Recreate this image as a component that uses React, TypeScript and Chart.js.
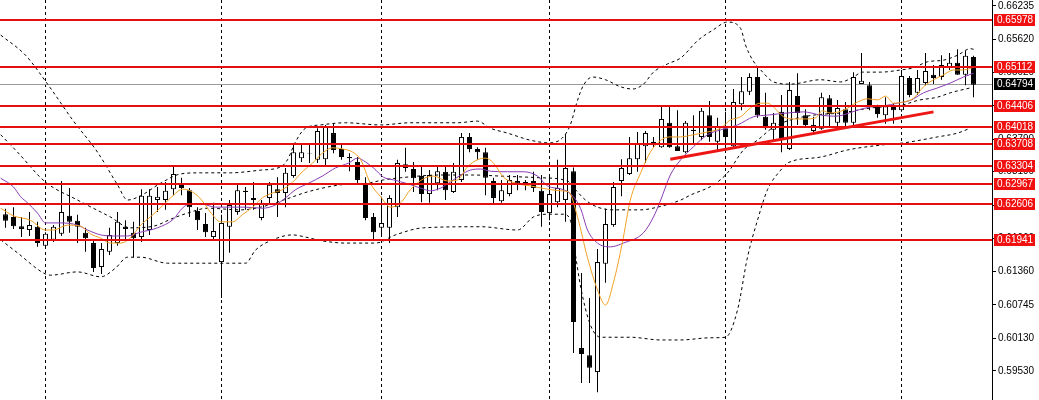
import React, { useEffect, useRef } from "react";
import { Chart, registerables } from "chart.js";

Chart.register(...registerables);

// ---- candle data (one entry per bar, index 0..121) ----
const opens = [
  0.6241, 0.6236, 0.6219, 0.6212, 0.6218, 0.6183, 0.6194, 0.6205, 0.6238, 0.6229,
  0.6207, 0.6188, 0.6144, 0.6172, 0.6188, 0.6218, 0.6207, 0.6199, 0.6212, 0.6267,
  0.6267, 0.6287, 0.6297, 0.6285, 0.6247, 0.6223, 0.6199, 0.6153, 0.6218, 0.6245,
  0.6284, 0.6271, 0.6234, 0.6271, 0.6287, 0.6280, 0.6311, 0.6344, 0.6353, 0.6341,
  0.6342, 0.6390, 0.6361, 0.6346, 0.6337, 0.6297, 0.6236, 0.6216, 0.6216, 0.6254,
  0.6326, 0.6324, 0.6311, 0.6278, 0.6298, 0.6319, 0.6282, 0.6304, 0.6383, 0.6361,
  0.6355, 0.6302, 0.6265, 0.6278, 0.6302, 0.6300, 0.6302, 0.6284, 0.6243, 0.6263,
  0.6267, 0.6320, 0.5995, 0.5982, 0.5951, 0.6150, 0.6221, 0.6302, 0.6315, 0.6342,
  0.6366, 0.6372, 0.6364, 0.6409, 0.6366, 0.6355, 0.6396, 0.6383, 0.6423, 0.6374,
  0.6399, 0.6366, 0.6443, 0.6466, 0.6493, 0.6420, 0.6396, 0.6429, 0.6361, 0.6458,
  0.6423, 0.6394, 0.6398, 0.6454, 0.6409, 0.6434, 0.6409, 0.6480, 0.6478, 0.6438,
  0.6423, 0.6440, 0.6432, 0.6491, 0.6464, 0.6482, 0.6497, 0.6493, 0.6510, 0.6519,
  0.6497, 0.6530,
];
const highs = [
  0.6251, 0.6254, 0.6236, 0.6245, 0.6227, 0.6208, 0.6221, 0.6302, 0.6289, 0.6240,
  0.6216, 0.6194, 0.6188, 0.6216, 0.6245, 0.6230, 0.6227, 0.6287, 0.6287, 0.6291,
  0.6300, 0.6328, 0.6308, 0.6289, 0.6254, 0.6243, 0.6262, 0.6240, 0.6267, 0.6295,
  0.6291, 0.6300, 0.6267, 0.6300, 0.6309, 0.6326, 0.6368, 0.6372, 0.6372, 0.6399,
  0.6405, 0.6407, 0.6372, 0.6353, 0.6346, 0.6309, 0.6243, 0.6273, 0.6276, 0.6341,
  0.6363, 0.6337, 0.6328, 0.6322, 0.6328, 0.6331, 0.6335, 0.6390, 0.6390, 0.6364,
  0.6363, 0.6308, 0.6304, 0.6313, 0.6313, 0.6304, 0.6319, 0.6313, 0.6313, 0.6341,
  0.6388, 0.6327, 0.6133, 0.6087, 0.6177, 0.6251, 0.6300, 0.6342, 0.6383, 0.6392,
  0.6394, 0.6383, 0.6438, 0.6438, 0.6432, 0.6412, 0.6423, 0.6436, 0.6449, 0.6418,
  0.6429, 0.6471, 0.6493, 0.6500, 0.6511, 0.6464, 0.6427, 0.6460, 0.6484, 0.6500,
  0.6434, 0.6420, 0.6464, 0.6460, 0.6451, 0.6447, 0.6502, 0.6537, 0.6484, 0.6442,
  0.6456, 0.6445, 0.6506, 0.6495, 0.6506, 0.6537, 0.6515, 0.6533, 0.6537, 0.6544,
  0.6541, 0.6532,
];
const lows = [
  0.6216, 0.6214, 0.6199, 0.6201, 0.6181, 0.6179, 0.6190, 0.6201, 0.6207, 0.6188,
  0.6172, 0.6135, 0.6131, 0.6166, 0.6183, 0.6194, 0.6162, 0.6190, 0.6203, 0.6245,
  0.6249, 0.6276, 0.6276, 0.6236, 0.6212, 0.6199, 0.6195, 0.6087, 0.6170, 0.6240,
  0.6249, 0.6249, 0.6230, 0.6258, 0.6236, 0.6254, 0.6308, 0.6337, 0.6335, 0.6335,
  0.6331, 0.6353, 0.6341, 0.6320, 0.6298, 0.6230, 0.6194, 0.6203, 0.6188, 0.6236,
  0.6319, 0.6282, 0.6263, 0.6262, 0.6285, 0.6267, 0.6280, 0.6300, 0.6355, 0.6341,
  0.6276, 0.6258, 0.6262, 0.6274, 0.6285, 0.6285, 0.6282, 0.6218, 0.6230, 0.6254,
  0.6227, 0.5986, 0.5931, 0.5931, 0.5914, 0.6115, 0.6218, 0.6274, 0.6313, 0.6319,
  0.6335, 0.6364, 0.6363, 0.6363, 0.6357, 0.6353, 0.6372, 0.6377, 0.6374, 0.6359,
  0.6359, 0.6364, 0.6432, 0.6460, 0.6418, 0.6396, 0.6377, 0.6355, 0.6359, 0.6405,
  0.6401, 0.6387, 0.6396, 0.6403, 0.6396, 0.6401, 0.6405, 0.6480, 0.6432, 0.6418,
  0.6407, 0.6407, 0.6429, 0.6456, 0.6460, 0.6478, 0.6480, 0.6488, 0.6506, 0.6497,
  0.6478, 0.6456,
];
const closes = [
  0.6229, 0.6219, 0.6214, 0.6221, 0.6188, 0.6205, 0.6218, 0.6245, 0.6227, 0.6218,
  0.6197, 0.6142, 0.6177, 0.6203, 0.6227, 0.6214, 0.6197, 0.6275, 0.6275, 0.6273,
  0.6284, 0.6315, 0.6289, 0.6254, 0.6230, 0.6208, 0.6210, 0.6225, 0.6258, 0.6285,
  0.6282, 0.6267, 0.6262, 0.6295, 0.6280, 0.6317, 0.6355, 0.6355, 0.6352, 0.6394,
  0.6401, 0.6359, 0.6346, 0.6344, 0.6304, 0.6234, 0.6208, 0.6225, 0.6271, 0.6335,
  0.6333, 0.6307, 0.6278, 0.6313, 0.6320, 0.6285, 0.6319, 0.6383, 0.6361, 0.6355,
  0.6308, 0.6271, 0.6285, 0.6304, 0.6298, 0.6297, 0.6289, 0.6245, 0.6278, 0.6289,
  0.6326, 0.6043, 0.5984, 0.5959, 0.6153, 0.6223, 0.6291, 0.6326, 0.6344, 0.6370,
  0.6390, 0.6374, 0.6416, 0.6364, 0.6357, 0.6409, 0.6394, 0.6431, 0.6383, 0.6401,
  0.6383, 0.6447, 0.6467, 0.6493, 0.6423, 0.6399, 0.6409, 0.6381, 0.6469, 0.6427,
  0.6405, 0.6405, 0.6456, 0.6425, 0.6436, 0.6409, 0.6493, 0.6486, 0.6440, 0.6425,
  0.6440, 0.6432, 0.6495, 0.6460, 0.6491, 0.6504, 0.6491, 0.6515, 0.6519, 0.6497,
  0.6532, 0.6479,
];

// ---- indicator readings: [bar index, price] ----
const maFast = [
  [-0.6, 0.6252], [1, 0.6238], [3.1, 0.623], [5, 0.6212], [6, 0.6212], [7.75, 0.6221],
  [9.4, 0.6219], [10.6, 0.6205], [11.9, 0.6197], [13.1, 0.6188], [14.4, 0.6188],
  [15.6, 0.6197], [16.9, 0.6221], [18.1, 0.6236], [19.75, 0.6258], [21, 0.6276],
  [22.1, 0.6287], [23.1, 0.6284], [24.4, 0.6269], [25.6, 0.6245], [26.9, 0.6227],
  [28.4, 0.6227], [29.6, 0.624], [30.9, 0.6254], [32.1, 0.6271], [33.4, 0.628],
  [34.6, 0.6286], [35.9, 0.63], [37.1, 0.6319], [38.4, 0.6335], [39.6, 0.6353],
  [40.9, 0.6363], [42.1, 0.6361], [43.4, 0.6355], [44.4, 0.6341], [45.6, 0.6298],
  [46.9, 0.6273], [48.1, 0.6254], [49.4, 0.6262], [50.6, 0.6286], [52.25, 0.6306],
  [53.5, 0.6311], [55.25, 0.6302], [56.5, 0.6304], [57.75, 0.6328], [59, 0.6341],
  [60, 0.6344], [61, 0.6335], [62.25, 0.6309], [64, 0.6297], [65.6, 0.6293],
  [67.75, 0.6287], [69.4, 0.6284], [70.4, 0.6282], [71.5, 0.6236], [72.75, 0.6161],
  [74, 0.6102], [75, 0.6074], [76, 0.6116], [77.1, 0.6188], [78.1, 0.6267],
  [79.4, 0.6317], [80.6, 0.6355], [81.9, 0.6377], [83.1, 0.6383], [84.4, 0.6383],
  [86, 0.6387], [87.75, 0.6392], [89.4, 0.6399], [90.6, 0.6414], [91.9, 0.642],
  [93.1, 0.6436], [94.4, 0.6445], [95.25, 0.6445], [96, 0.6438], [97.25, 0.642],
  [98.5, 0.6416], [100, 0.6416], [101.25, 0.6418], [102.1, 0.6431], [103.1, 0.6427],
  [104.75, 0.6432], [106.5, 0.6447], [107.75, 0.6453], [109, 0.6451], [110, 0.6458],
  [111, 0.6445], [112.25, 0.6447], [113.5, 0.6454], [114.75, 0.6475], [116, 0.6488],
  [117.25, 0.6497], [118.5, 0.6506], [119.75, 0.6506], [121, 0.6511],
];
const maSlow = [
  [-0.6, 0.6307], [1, 0.6291], [1.9, 0.6273], [2.75, 0.6262], [4, 0.6243], [5, 0.6225],
  [6.9, 0.6225], [9, 0.6221], [10.25, 0.6212], [11.9, 0.6203], [13.5, 0.6201],
  [15.25, 0.6201], [16.9, 0.6208], [19, 0.6216], [21, 0.6232], [22.1, 0.6252],
  [23.1, 0.626], [24.4, 0.626], [26.25, 0.6254], [30, 0.6254], [32.1, 0.6252],
  [33.75, 0.6258], [35, 0.6271], [36.25, 0.6286], [37.9, 0.6298], [39.6, 0.6311],
  [41.25, 0.6326], [42.9, 0.6335], [44, 0.6344], [45, 0.6337], [46, 0.6326],
  [47.25, 0.6309], [48.5, 0.6304], [50.25, 0.6297], [51.9, 0.6289], [53.1, 0.6284],
  [54.4, 0.6289], [55.6, 0.63], [56.9, 0.6313], [58.1, 0.6322], [59.4, 0.6324],
  [60.6, 0.632], [62.75, 0.6319], [64.75, 0.6319], [66.5, 0.6311], [67.75, 0.6293],
  [69.75, 0.6286], [71, 0.6273], [71.9, 0.6251], [72.75, 0.6212], [74, 0.6188],
  [75.6, 0.6181], [77.25, 0.6188], [79.75, 0.6207], [81, 0.6236], [81.9, 0.6267],
  [83.1, 0.6313], [84.4, 0.6341], [86, 0.6365], [87.75, 0.6387], [89.4, 0.6396],
  [91.5, 0.6405], [93.5, 0.642], [95.25, 0.6423], [97.75, 0.6427], [99.75, 0.6429],
  [101.9, 0.6423], [103.75, 0.6421], [106.5, 0.6432], [108.1, 0.6438], [109.75, 0.644],
  [111.5, 0.6445], [113.1, 0.645], [114.75, 0.6464], [116.5, 0.6473], [118.1, 0.6482],
  [119.75, 0.6493], [121, 0.65],
];
const bandUpper = [
  [-0.6, 0.657], [2.5, 0.6533], [5.6, 0.6473], [8.4, 0.6414], [11.5, 0.6355], [14, 0.6295],
  [15.25, 0.6267], [16.9, 0.6275], [19.4, 0.6298], [21.9, 0.6315], [24.4, 0.6317],
  [28.1, 0.6317], [31.9, 0.6322], [34.4, 0.6328], [35.25, 0.6341], [36.25, 0.6374],
  [37.5, 0.6399], [39.4, 0.6405], [42.5, 0.6409], [46.9, 0.6405], [50.6, 0.6409],
  [56.5, 0.6409], [59, 0.6412], [60.6, 0.6399], [62.75, 0.639], [65.6, 0.6377],
  [68, 0.6372], [69.6, 0.6381], [70.6, 0.6405], [71.5, 0.645], [72.25, 0.6478],
  [73.4, 0.6493], [75, 0.6488], [76.9, 0.6475], [78.4, 0.6471], [79.75, 0.648],
  [81, 0.6502], [82.75, 0.6517], [84.4, 0.6528], [86.6, 0.6561], [88.4, 0.6579],
  [90.25, 0.6594], [91.9, 0.6582], [92.5, 0.6552], [93.4, 0.6524], [94.4, 0.6506],
  [96, 0.6484], [98.1, 0.648], [101.9, 0.6488], [104.4, 0.6484], [106, 0.6493],
  [107.1, 0.6502], [109.4, 0.6502], [111.9, 0.6506], [113.5, 0.651], [115.25, 0.6521],
  [117.25, 0.6524], [119, 0.6533], [120.6, 0.6545], [121.25, 0.6543],
];
const bandMiddle = [
  [-0.6, 0.6387], [1.5, 0.6355], [5, 0.63], [9, 0.6267], [13.1, 0.6236], [15.6, 0.6216],
  [18.5, 0.6219], [21, 0.6234], [22.75, 0.6243], [25.25, 0.6252], [29.4, 0.6249],
  [31.9, 0.6254], [34.75, 0.6267], [37.75, 0.6282], [41.9, 0.6295], [45.25, 0.6298],
  [47.25, 0.6304], [49.4, 0.6308], [54.4, 0.6313], [58.5, 0.6313], [61.9, 0.6311],
  [66.9, 0.6308], [70.25, 0.6302], [71.25, 0.6286], [72.5, 0.6267], [74, 0.6254],
  [76, 0.6249], [79.4, 0.6249], [81.5, 0.6254], [84.4, 0.6267], [85.6, 0.6276],
  [88.5, 0.6295], [90.25, 0.6317], [92.25, 0.6359], [94, 0.6377], [96, 0.6401],
  [98.1, 0.6414], [101, 0.6423], [104.4, 0.6427], [108.1, 0.6436], [112.25, 0.6442],
  [114, 0.645], [116.5, 0.6456], [118.1, 0.6464], [120.6, 0.6473],
];
const bandLower = [
  [-0.6, 0.6194], [1.5, 0.617], [4.75, 0.6133], [5.6, 0.6129], [9, 0.6135], [11.9, 0.6126],
  [13.75, 0.6142], [15.25, 0.6162], [16.9, 0.6162], [20.25, 0.6151], [24.4, 0.6151],
  [30, 0.6151], [31.25, 0.6175], [33.4, 0.6194], [35.9, 0.6203], [37.5, 0.6199],
  [39.6, 0.6192], [42.5, 0.6188], [46.25, 0.6188], [48.75, 0.6203], [52.25, 0.6216],
  [59.4, 0.6218], [64, 0.6212], [66, 0.6236], [67.75, 0.6241], [69.75, 0.6241],
  [70.6, 0.623], [71.25, 0.6166], [71.9, 0.6107], [73.1, 0.6038], [74.4, 0.6015],
  [78.1, 0.6015], [81.9, 0.601], [84.4, 0.601], [88.1, 0.6014], [90, 0.6015],
  [91.5, 0.6065], [92.75, 0.6162], [94, 0.623], [95.25, 0.6286], [96.9, 0.6322],
  [97.75, 0.6335], [101.9, 0.6346], [105.25, 0.6359], [109.4, 0.6368], [112.25, 0.6372],
  [116.5, 0.6383], [119, 0.639], [120.6, 0.6399],
];

// ---- levels, ticks, markers ----
const levels = [0.65978, 0.65112, 0.64406, 0.64018, 0.63708, 0.63304, 0.62967, 0.62606, 0.61941];
const currentPrice = 0.64794;
const yTicks = [0.66235, 0.6562, 0.6502, 0.64405, 0.6379, 0.6319, 0.62575, 0.6196, 0.6136, 0.60745, 0.6013, 0.5953];
const periodStarts = [5, 27, 47, 68, 90, 112];
const trendLine = [[83.1, 0.6342], [116, 0.6429]];

const Y_MIN = 0.58997;
const Y_MAX = 0.66345;
const FONT = '"Liberation Sans", Arial, sans-serif';

const toXY = (arr: number[][]) => arr.map(([i, v]) => ({ x: i, y: v }));

const overlayPlugin = {
  id: "mtOverlay",
  beforeDatasetsDraw(chart: any) {
    const { ctx, chartArea: a, scales } = chart;
    const x = scales.x;
    const y = scales.y;
    ctx.save();
    ctx.strokeStyle = "#000";
    ctx.lineWidth = 1;
    ctx.setLineDash([3, 3]);
    periodStarts.forEach((i) => {
      const px = Math.floor(x.getPixelForValue(i)) + 0.5;
      ctx.beginPath();
      ctx.moveTo(px, a.top);
      ctx.lineTo(px, a.bottom);
      ctx.stroke();
    });
    ctx.setLineDash([]);
    ctx.strokeStyle = "#9a9a9a";
    const py = Math.round(y.getPixelForValue(currentPrice)) + 0.5;
    ctx.beginPath();
    ctx.moveTo(a.left, py);
    ctx.lineTo(a.right, py);
    ctx.stroke();
    ctx.restore();
  },
  afterDatasetsDraw(chart: any) {
    const { ctx, chartArea: a, scales } = chart;
    const x = scales.x;
    const y = scales.y;
    ctx.save();
    ctx.strokeStyle = "#e41010";
    ctx.lineWidth = 2;
    levels.forEach((v) => {
      const py = Math.round(y.getPixelForValue(v));
      ctx.beginPath();
      ctx.moveTo(a.left, py);
      ctx.lineTo(a.right, py);
      ctx.stroke();
    });
    ctx.lineWidth = 3;
    ctx.strokeStyle = "#ee1515";
    ctx.beginPath();
    ctx.moveTo(x.getPixelForValue(trendLine[0][0]), y.getPixelForValue(trendLine[0][1]));
    ctx.lineTo(x.getPixelForValue(trendLine[1][0]), y.getPixelForValue(trendLine[1][1]));
    ctx.stroke();
    ctx.restore();
  },
  afterDraw(chart: any) {
    const { ctx, chartArea: a, scales } = chart;
    const y = scales.y;
    ctx.save();
    ctx.font = "10px " + FONT;
    ctx.textBaseline = "middle";
    ctx.textAlign = "left";
    const drawLabel = (v: number, bg: string) => {
      const py = Math.round(y.getPixelForValue(v));
      ctx.fillStyle = bg;
      ctx.fillRect(a.right + 2, py - 6, 41, 12);
      ctx.fillStyle = "#fff";
      ctx.fillText(v.toFixed(5), a.right + 5, py + 0.5);
    };
    levels.forEach((v) => drawLabel(v, "#f01010"));
    drawLabel(currentPrice, "#000");
    ctx.restore();
  },
};

export default function App() {
  const ref = useRef<HTMLCanvasElement | null>(null);

  useEffect(() => {
    document.body.style.margin = "0";
    const canvas = ref.current;
    if (!canvas) return;
    const bodyColors = opens.map((o, i) => (closes[i] >= o ? "#ffffff" : "#000000"));
    const chart = new Chart(canvas, {
      type: "bar",
      data: {
        datasets: [
          {
            type: "line",
            data: toXY(maFast),
            borderColor: "#f2a024",
            borderWidth: 1,
            pointRadius: 0,
            fill: false,
            cubicInterpolationMode: "monotone",
            order: 1,
          } as any,
          {
            type: "line",
            data: toXY(maSlow),
            borderColor: "#8a3cb4",
            borderWidth: 1,
            pointRadius: 0,
            fill: false,
            cubicInterpolationMode: "monotone",
            order: 2,
          } as any,
          ...[bandUpper, bandMiddle, bandLower].map(
            (b) =>
              ({
                type: "line",
                data: toXY(b),
                borderColor: "#000",
                borderWidth: 1,
                borderDash: [3, 3],
                pointRadius: 0,
                fill: false,
                cubicInterpolationMode: "monotone",
                order: 3,
              } as any)
          ),
          {
            type: "bar",
            data: opens.map((o, i) => ({ x: i, y: [o, closes[i]] })),
            backgroundColor: bodyColors,
            borderColor: "#000",
            borderWidth: 1,
            borderSkipped: false,
            barThickness: 5,
            grouped: false,
            inflateAmount: 0,
            order: 8,
          } as any,
          {
            type: "bar",
            data: highs.map((h, i) => ({ x: i, y: [lows[i], h] })),
            backgroundColor: "#000",
            borderWidth: 0,
            barThickness: 1,
            grouped: false,
            inflateAmount: 0,
            order: 9,
          } as any,
        ],
      },
      options: {
        animation: false,
        responsive: false,
        devicePixelRatio: 1,
        layout: { padding: 0 },
        plugins: { legend: { display: false }, tooltip: { enabled: false } },
        scales: {
          x: {
            type: "linear",
            min: -0.6875,
            max: 123.3125,
            offset: false,
            display: false,
          },
          y: {
            type: "linear",
            position: "right",
            min: Y_MIN,
            max: Y_MAX,
            afterBuildTicks: (s: any) => {
              s.ticks = yTicks.map((v) => ({ value: v }));
            },
            afterFit: (s: any) => {
              s.width = 47;
              s.paddingTop = 0;
              s.paddingBottom = 0;
            },
            ticks: {
              autoSkip: false,
              color: "#000",
              padding: 2,
              font: { family: FONT, size: 10 },
              callback: (v: any) => Number(v).toFixed(5),
            },
            grid: {
              drawOnChartArea: false,
              drawTicks: true,
              tickLength: 4,
              color: "#000",
            },
            border: { display: true, color: "#000" },
          },
        },
      } as any,
      plugins: [overlayPlugin],
    });
    return () => chart.destroy();
  }, []);

  return (
    <canvas
      ref={ref}
      width={1039}
      height={400}
      style={{ display: "block", width: 1039, height: 400 }}
    />
  );
}
